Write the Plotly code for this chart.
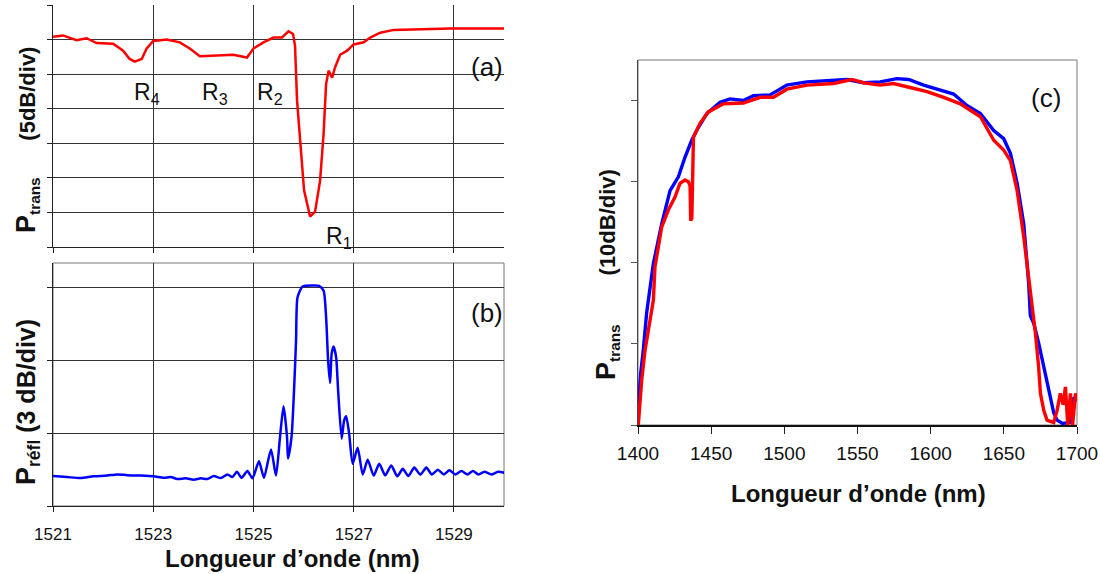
import plotly.graph_objects as go

# ---------------- data ----------------
# (a) transmission, 5 dB/div
wl_a = [1521.0, 1521.2, 1521.47, 1521.67, 1521.87, 1522.2, 1522.4, 1522.53, 1522.63, 1522.77,
        1522.87, 1523.0, 1523.27, 1523.53, 1523.73, 1523.93, 1524.27, 1524.6, 1524.87, 1525.0,
        1525.2, 1525.4, 1525.57, 1525.7, 1525.79, 1525.83, 1525.87, 1525.93, 1526.01, 1526.13,
        1526.23, 1526.33, 1526.4, 1526.45, 1526.5, 1526.57, 1526.63, 1526.73, 1526.87, 1527.0,
        1527.2, 1527.33, 1527.53, 1527.8, 1528.27, 1528.93, 1530.0]
p_a = [30.4, 30.6, 29.9, 30.2, 29.5, 29.4, 28.4, 27.2, 26.8, 27.2,
       28.7, 29.8, 30.0, 29.6, 28.7, 27.6, 27.7, 27.8, 27.4, 28.7,
       29.6, 30.3, 30.3, 31.2, 30.8, 29.1, 21.2, 15.4, 8.2, 4.4,
       5.1, 9.6, 16.4, 23.6, 25.5, 24.5, 26.0, 27.8, 28.4, 29.3,
       29.6, 30.3, 31.0, 31.4, 31.5, 31.6, 31.6]

# (b) reflection, 3 dB/div
wl_b = [1521.00, 1521.28, 1521.55, 1521.81, 1522.08, 1522.28, 1522.48, 1522.75, 1523.01, 1523.21,
        1523.35, 1523.48, 1523.65, 1523.81, 1523.95, 1524.08, 1524.21, 1524.35, 1524.48, 1524.58,
        1524.67, 1524.76, 1524.88, 1524.98, 1525.11, 1525.21, 1525.35, 1525.45, 1525.53, 1525.60,
        1525.67, 1525.69, 1525.76, 1525.81, 1525.85, 1525.88, 1525.98, 1526.18, 1526.31, 1526.40,
        1526.45, 1526.49, 1526.53, 1526.56, 1526.60, 1526.65, 1526.69, 1526.76, 1526.81, 1526.85,
        1526.91, 1526.98, 1527.08, 1527.18, 1527.28, 1527.40, 1527.51, 1527.63, 1527.75, 1527.87,
        1527.98, 1528.09, 1528.21, 1528.33, 1528.45, 1528.56, 1528.68, 1528.80, 1528.91, 1529.03,
        1529.15, 1529.27, 1529.38, 1529.49, 1529.61, 1529.75, 1529.88, 1530.03]
p_b = [1.23, 1.19, 1.15, 1.22, 1.25, 1.30, 1.27, 1.25, 1.22, 1.16,
       1.19, 1.11, 1.14, 1.08, 1.14, 1.11, 1.23, 1.15, 1.30, 1.19,
       1.41, 1.16, 1.44, 1.14, 1.84, 1.16, 2.33, 1.25, 2.84, 4.11,
       2.84, 1.95, 2.84, 4.75, 6.81, 8.59, 9.03, 9.07, 9.06, 8.86,
       7.77, 5.99, 5.06, 6.26, 6.56, 6.12, 4.75, 2.77, 3.52, 3.69,
       2.97, 1.74, 2.40, 1.30, 1.90, 1.25, 1.74, 1.26, 1.67, 1.22,
       1.53, 1.23, 1.58, 1.29, 1.58, 1.30, 1.49, 1.30, 1.47, 1.30,
       1.44, 1.30, 1.44, 1.30, 1.41, 1.30, 1.41, 1.36]

# (c) transmission, 10 dB/div
wl_c_blue = [1400.2, 1401.8, 1403.6, 1405.9, 1410.5, 1416.2, 1421.9, 1427.6, 1432.1, 1436.7,
             1441.3, 1447.0, 1456.1, 1462.9, 1472.0, 1478.9, 1490.3, 1501.7, 1515.4, 1529.0,
             1542.7, 1554.1, 1565.5, 1576.9, 1584.9, 1595.2, 1606.6, 1615.7, 1624.8, 1634.0,
             1643.1, 1649.9, 1654.5, 1659.1, 1663.6, 1667.0, 1668.1, 1670.5, 1673.8, 1677.3,
             1679.5, 1681.8, 1684.1, 1686.4, 1690.0, 1695.0, 1697.8, 1700.0]
p_c_blue = [2.2, 6.3, 9.2, 13.8, 19.9, 24.8, 28.9, 30.6, 33.0, 35.1,
            36.7, 38.4, 39.8, 40.2, 40.0, 40.6, 40.7, 41.9, 42.3, 42.5,
            42.6, 42.2, 42.3, 42.7, 42.6, 41.9, 41.3, 40.8, 39.4, 38.4,
            36.3, 35.3, 33.5, 29.8, 24.8, 17.4, 13.5, 12.5, 10.1, 7.1,
            5.2, 3.1, 1.5, 0.6, 0.2, 0.3, 3.4, 3.0]
wl_c_red = [1400.2, 1402.5, 1404.8, 1408.2, 1410.5, 1411.6, 1416.2, 1420.7, 1425.3, 1428.7,
            1432.1, 1434.4, 1435.6, 1436.0, 1436.8, 1437.9, 1442.4, 1448.1, 1458.4, 1472.0,
            1483.5, 1492.6, 1501.7, 1515.4, 1533.6, 1546.1, 1554.1, 1565.5, 1574.6, 1583.8,
            1597.5, 1608.9, 1620.3, 1627.1, 1634.0, 1643.1, 1649.9, 1654.5, 1659.1, 1663.6,
            1667.0, 1670.4, 1671.6, 1673.8, 1675.0, 1677.3, 1679.5, 1684.1, 1686.4, 1688.6,
            1690.5, 1692.1, 1693.7, 1695.5, 1697.0, 1699.0, 1700.0]
p_c_red = [0.0, 5.5, 9.2, 12.9, 15.4, 19.5, 24.4, 26.5, 28.1, 29.8,
           30.2, 30.0, 29.5, 25.2, 25.5, 35.5, 37.2, 38.6, 39.6, 39.7,
           40.4, 40.4, 41.4, 41.9, 42.1, 42.6, 42.2, 41.9, 42.1, 41.7,
           41.1, 40.4, 39.6, 38.8, 38.0, 35.1, 33.9, 32.6, 28.9, 23.2,
           18.3, 13.5, 11.3, 7.1, 3.9, 1.8, 0.6, 0.3, 1.8, 3.9,
           2.5, 4.7, 0.0, 3.9, 0.0, 3.9, 3.0]

ticks_ab = [1521, 1523, 1525, 1527, 1529]
ticks_c = [1400, 1450, 1500, 1550, 1600, 1650, 1700]

# ---------------- figure ----------------
W, H = 1100, 574
FONT = "Liberation Sans, Arial, sans-serif"

def px(x):
    return x / W

def py(y):
    return 1 - y / H

fig = go.Figure()
fig.add_trace(go.Scatter(x=wl_a, y=p_a, mode="lines", line=dict(color="#ff0000", width=2.5),
                         xaxis="x", yaxis="y", showlegend=False))
fig.add_trace(go.Scatter(x=wl_b, y=p_b, mode="lines", line=dict(color="#0000ff", width=2.5, shape="spline", smoothing=0.6),
                         xaxis="x2", yaxis="y2", showlegend=False))
fig.add_trace(go.Scatter(x=wl_c_blue, y=p_c_blue, mode="lines", line=dict(color="#0000ff", width=3.4),
                         xaxis="x3", yaxis="y3", showlegend=False))
fig.add_trace(go.Scatter(x=wl_c_red, y=p_c_red, mode="lines", line=dict(color="#ff0000", width=3.4),
                         xaxis="x3", yaxis="y3", showlegend=False))

grid = "#333333"
dom_x_ab = [px(53), px(504)]
common = dict(automargin=False, zeroline=False, showline=True)

fig.update_layout(
    template="none",
    width=W, height=H, margin=dict(l=0, r=0, t=0, b=0, pad=0),
    paper_bgcolor="white", plot_bgcolor="white",
    font=dict(family=FONT, color="#111111"),
    xaxis=dict(domain=dom_x_ab, range=[1521, 1530], tickvals=ticks_ab, showticklabels=False,
               ticks="outside", ticklen=5, tickcolor="#222", showgrid=True, gridcolor=grid, gridwidth=1,
               linecolor="#222", linewidth=1, anchor="y", **common),
    yaxis=dict(domain=[py(247), py(5)], range=[0, 35], dtick=5, showticklabels=False,
               ticks="outside", ticklen=5, tickcolor="#222", showgrid=True, gridcolor=grid, gridwidth=1,
               linecolor="#222", linewidth=1, anchor="x", **common),
    xaxis2=dict(domain=dom_x_ab, range=[1521, 1530], tickvals=ticks_ab, showticklabels=True,
                tickfont=dict(size=17, color="#111"), ticklabelstandoff=8,
                ticks="outside", ticklen=5, tickcolor="#222", showgrid=True, gridcolor=grid, gridwidth=1,
                linecolor="#222", linewidth=1, anchor="y2", **common),
    yaxis2=dict(domain=[py(506), py(263)], range=[0, 10], tickvals=[0, 3, 6, 9], showticklabels=False,
                ticks="outside", ticklen=5, tickcolor="#222", showgrid=True, gridcolor=grid, gridwidth=1,
                linecolor="#222", linewidth=1, anchor="x2", **common),
    xaxis3=dict(domain=[px(638), px(1077)], range=[1400, 1700], tickvals=ticks_c,
                tickfont=dict(size=19, color="#111"), ticklabelstandoff=3,
                ticks="outside", ticklen=7, tickcolor="#222", showgrid=False,
                linecolor="#111", linewidth=2, anchor="y3", **common),
    yaxis3=dict(domain=[py(425), py(60)], range=[0, 45], tickvals=[0, 10, 20, 30, 40], showticklabels=False,
                ticks="outside", ticklen=6, tickcolor="#555", showgrid=False,
                linecolor="#444", linewidth=1, anchor="x3", **common),
)

# gray frame (top/right edges) for panels (b) and (c)
for xr, yr in (("x2", "y2"), ("x3", "y3")):
    fig.add_shape(type="rect", xref=f"{xr} domain", yref=f"{yr} domain", x0=0, x1=1, y0=0, y1=1,
                  line=dict(color="#777777", width=1), layer="below")

def ann(text, x, y, size, bold=False, angle=0, color="#111111"):
    fig.add_annotation(text=(f"<b>{text}</b>" if bold else text), x=px(x), y=py(y),
                       xref="paper", yref="paper", showarrow=False, xanchor="center", yanchor="middle",
                       textangle=angle, font=dict(family=FONT, size=size, color=color))

# panel labels
ann("(a)", 487, 67, 26)
ann("(b)", 487, 313, 26)
ann("(c)", 1046, 98, 26)

# resonance labels
ann("R<sub>4</sub>", 147, 94, 23)
ann("R<sub>3</sub>", 215, 94, 23)
ann("R<sub>2</sub>", 270, 94, 23)
ann("R<sub>1</sub>", 339, 237, 23)

# axis titles
ann("Longueur d’onde (nm)", 292, 558, 24, bold=True)
ann("Longueur d’onde (nm)", 858, 493, 24, bold=True)
ann("<span style='font-size:27px'>P</span><sub>trans</sub>      (5dB/div)", 27, 140, 22, bold=True, angle=-90)
ann("<span style='font-size:27px'>P</span><sub>réfl</sub> (3 dB/div)", 27, 402, 25, bold=True, angle=-90)
ann("<span style='font-size:27px'>P</span><sub>trans</sub>        (10dB/div)", 607, 274, 22, bold=True, angle=-90)

fig.write_html("out.html")
